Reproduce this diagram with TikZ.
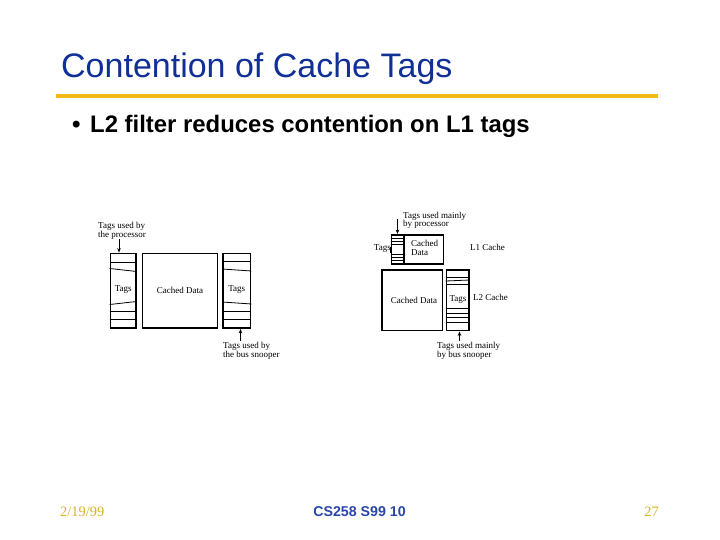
\documentclass[tikz,border=0pt]{standalone}
\usepackage{fontspec}
\setmainfont{Liberation Serif}
\setsansfont{Liberation Sans}
\usetikzlibrary{arrows.meta}
\definecolor{titleblue}{RGB}{16,48,150}
\definecolor{footblue}{RGB}{40,70,170}
\definecolor{rulegold}{RGB}{240,186,20}
\definecolor{footgold}{RGB}{218,176,40}
\tikzset{
  box/.style={draw=black,line width=1.8pt},
  stripe/.style={draw=black,line width=0.8pt},
  lbl/.style={inner sep=0pt,font=\fontsize{9}{8.6}\selectfont},
  arr/.style={line width=0.9pt,-{Stealth[length=4.5pt,width=3.5pt]}},
}
\begin{document}
\begin{tikzpicture}[x=1pt,y=-1pt]
\useasboundingbox (0,0) rectangle (720,540);
% title
\node[anchor=base west,inner sep=0pt,text=titleblue,font=\sffamily\fontsize{34}{34}\selectfont] (title) at (61,78) {Contention of Cache Tags};
\draw[rulegold,line width=4pt] (56,96) -- (658,96);
\node[anchor=base west,inner sep=0pt,font=\sffamily\bfseries\fontsize{24}{24}\selectfont] (bul) at (72,133) {•};
\node[anchor=base west,inner sep=0pt,font=\sffamily\bfseries\fontsize{23.9}{24}\selectfont] (b1) at (90,133) {L2 filter reduces contention on L1 tags};
% footer
\node[anchor=base west,inner sep=0pt,text=footgold,font=\fontsize{14.4}{14}\selectfont] (date) at (60,516) {2/19/99};
\node[anchor=base,inner sep=0pt,text=footblue,font=\sffamily\bfseries\fontsize{14.2}{14}\selectfont] (course) at (359.5,516) {CS258 S99 10};
\node[anchor=base east,inner sep=0pt,text=footgold,font=\fontsize{14.4}{14}\selectfont] (page) at (659,516) {27};

% ---------- left diagram ----------
\node[box,minimum width=25.5pt,minimum height=74.5pt,inner sep=0pt] (ltag) at (123.25,290.75) {};
\node[box,minimum width=75pt,minimum height=74.5pt,inner sep=0pt] (ldata) at (180,290.75) {};
\node[box,minimum width=27.5pt,minimum height=74.5pt,inner sep=0pt] (rtag) at (236.75,290.75) {};
\foreach \yy in {262.5,311,319.5} \draw[stripe] (ltag.west |- 0,\yy) -- (ltag.east |- 0,\yy);
\draw[stripe] (ltag.west |- 0,268.5) -- (ltag.east |- 0,271.5);
\draw[stripe] (ltag.west |- 0,304.5) -- (ltag.east |- 0,301.5);
\foreach \yy in {261.5,311,319.5} \draw[stripe] (rtag.west |- 0,\yy) -- (rtag.east |- 0,\yy);
\draw[stripe] (rtag.west |- 0,269) -- (rtag.east |- 0,271);
\draw[stripe] (rtag.west |- 0,302) -- (rtag.east |- 0,304);
\node[lbl] (ltagt) at (123.25,290) {Tags};
\node[lbl] (ldatat) at (180,290) {Cached Data};
\node[lbl] (rtagt) at (236.75,290) {Tags};
\node[lbl,align=left,anchor=west] (lproc) at (98,231) {Tags used by\\the processor};
\node[lbl,align=left,anchor=west] (lsnoop) at (223,351) {Tags used by\\the bus snooper};
\coordinate (lpa) at (119,239);
\coordinate (lsa) at (240.5,341);
\draw[arr] (lpa) -- (lpa |- ltag.north);
\draw[arr] (lsa) -- (lsa |- rtag.south);

% ---------- right diagram ----------
\node[box,minimum width=12.5pt,minimum height=29pt,inner sep=0pt] (l1tag) at (397.75,249.5) {};
\node[box,minimum width=39.5pt,minimum height=29pt,inner sep=0pt] (l1data) at (423.75,249.5) {};
\foreach \yy in {238.5,241.5,244.5,254.5,257.5,260.5} \draw[stripe] (l1tag.west |- 0,\yy) -- (l1tag.east |- 0,\yy);
\draw[line width=1.8pt] (l1tag.west |- 0,246.5) -- (l1tag.west |- 0,252.5);
\node[lbl,anchor=east] (l1tagt) at (391,249) {Tags};
\node[lbl,align=left,anchor=west] (l1datat) at (411,248) {Cached\\Data};
\node[lbl,anchor=west] (l1c) at (470,247) {L1 Cache};
\node[lbl,align=left,anchor=west] (l1proc) at (403,220.5) {Tags used mainly\\by processor};
\coordinate (l1pa) at (397.5,219);
\draw[arr] (l1pa) -- (l1pa |- l1tag.north);

\node[box,minimum width=60.5pt,minimum height=60.5pt,inner sep=0pt] (l2data) at (412.25,300.25) {};
\node[box,minimum width=22.5pt,minimum height=60.5pt,inner sep=0pt] (l2tag) at (457.75,300.25) {};
\foreach \yy in {277,284.5,308.5,313.5,317.5,322} \draw[stripe] (l2tag.west |- 0,\yy) -- (l2tag.east |- 0,\yy);
\draw[stripe] (l2tag.west |- 0,281) -- (l2tag.east |- 0,280);
\node[lbl] (l2datat) at (414,300) {Cached Data};
\node[lbl] (l2tagt) at (458,299.5) {Tags};
\node[lbl,anchor=west] (l2c) at (473,297) {L2 Cache};
\node[lbl,align=left,anchor=west] (l2snoop) at (437,351) {Tags used mainly\\by bus snooper};
\coordinate (l2sa) at (459.5,341);
\draw[arr] (l2sa) -- (l2sa |- l2tag.south);
\end{tikzpicture}
\end{document}
